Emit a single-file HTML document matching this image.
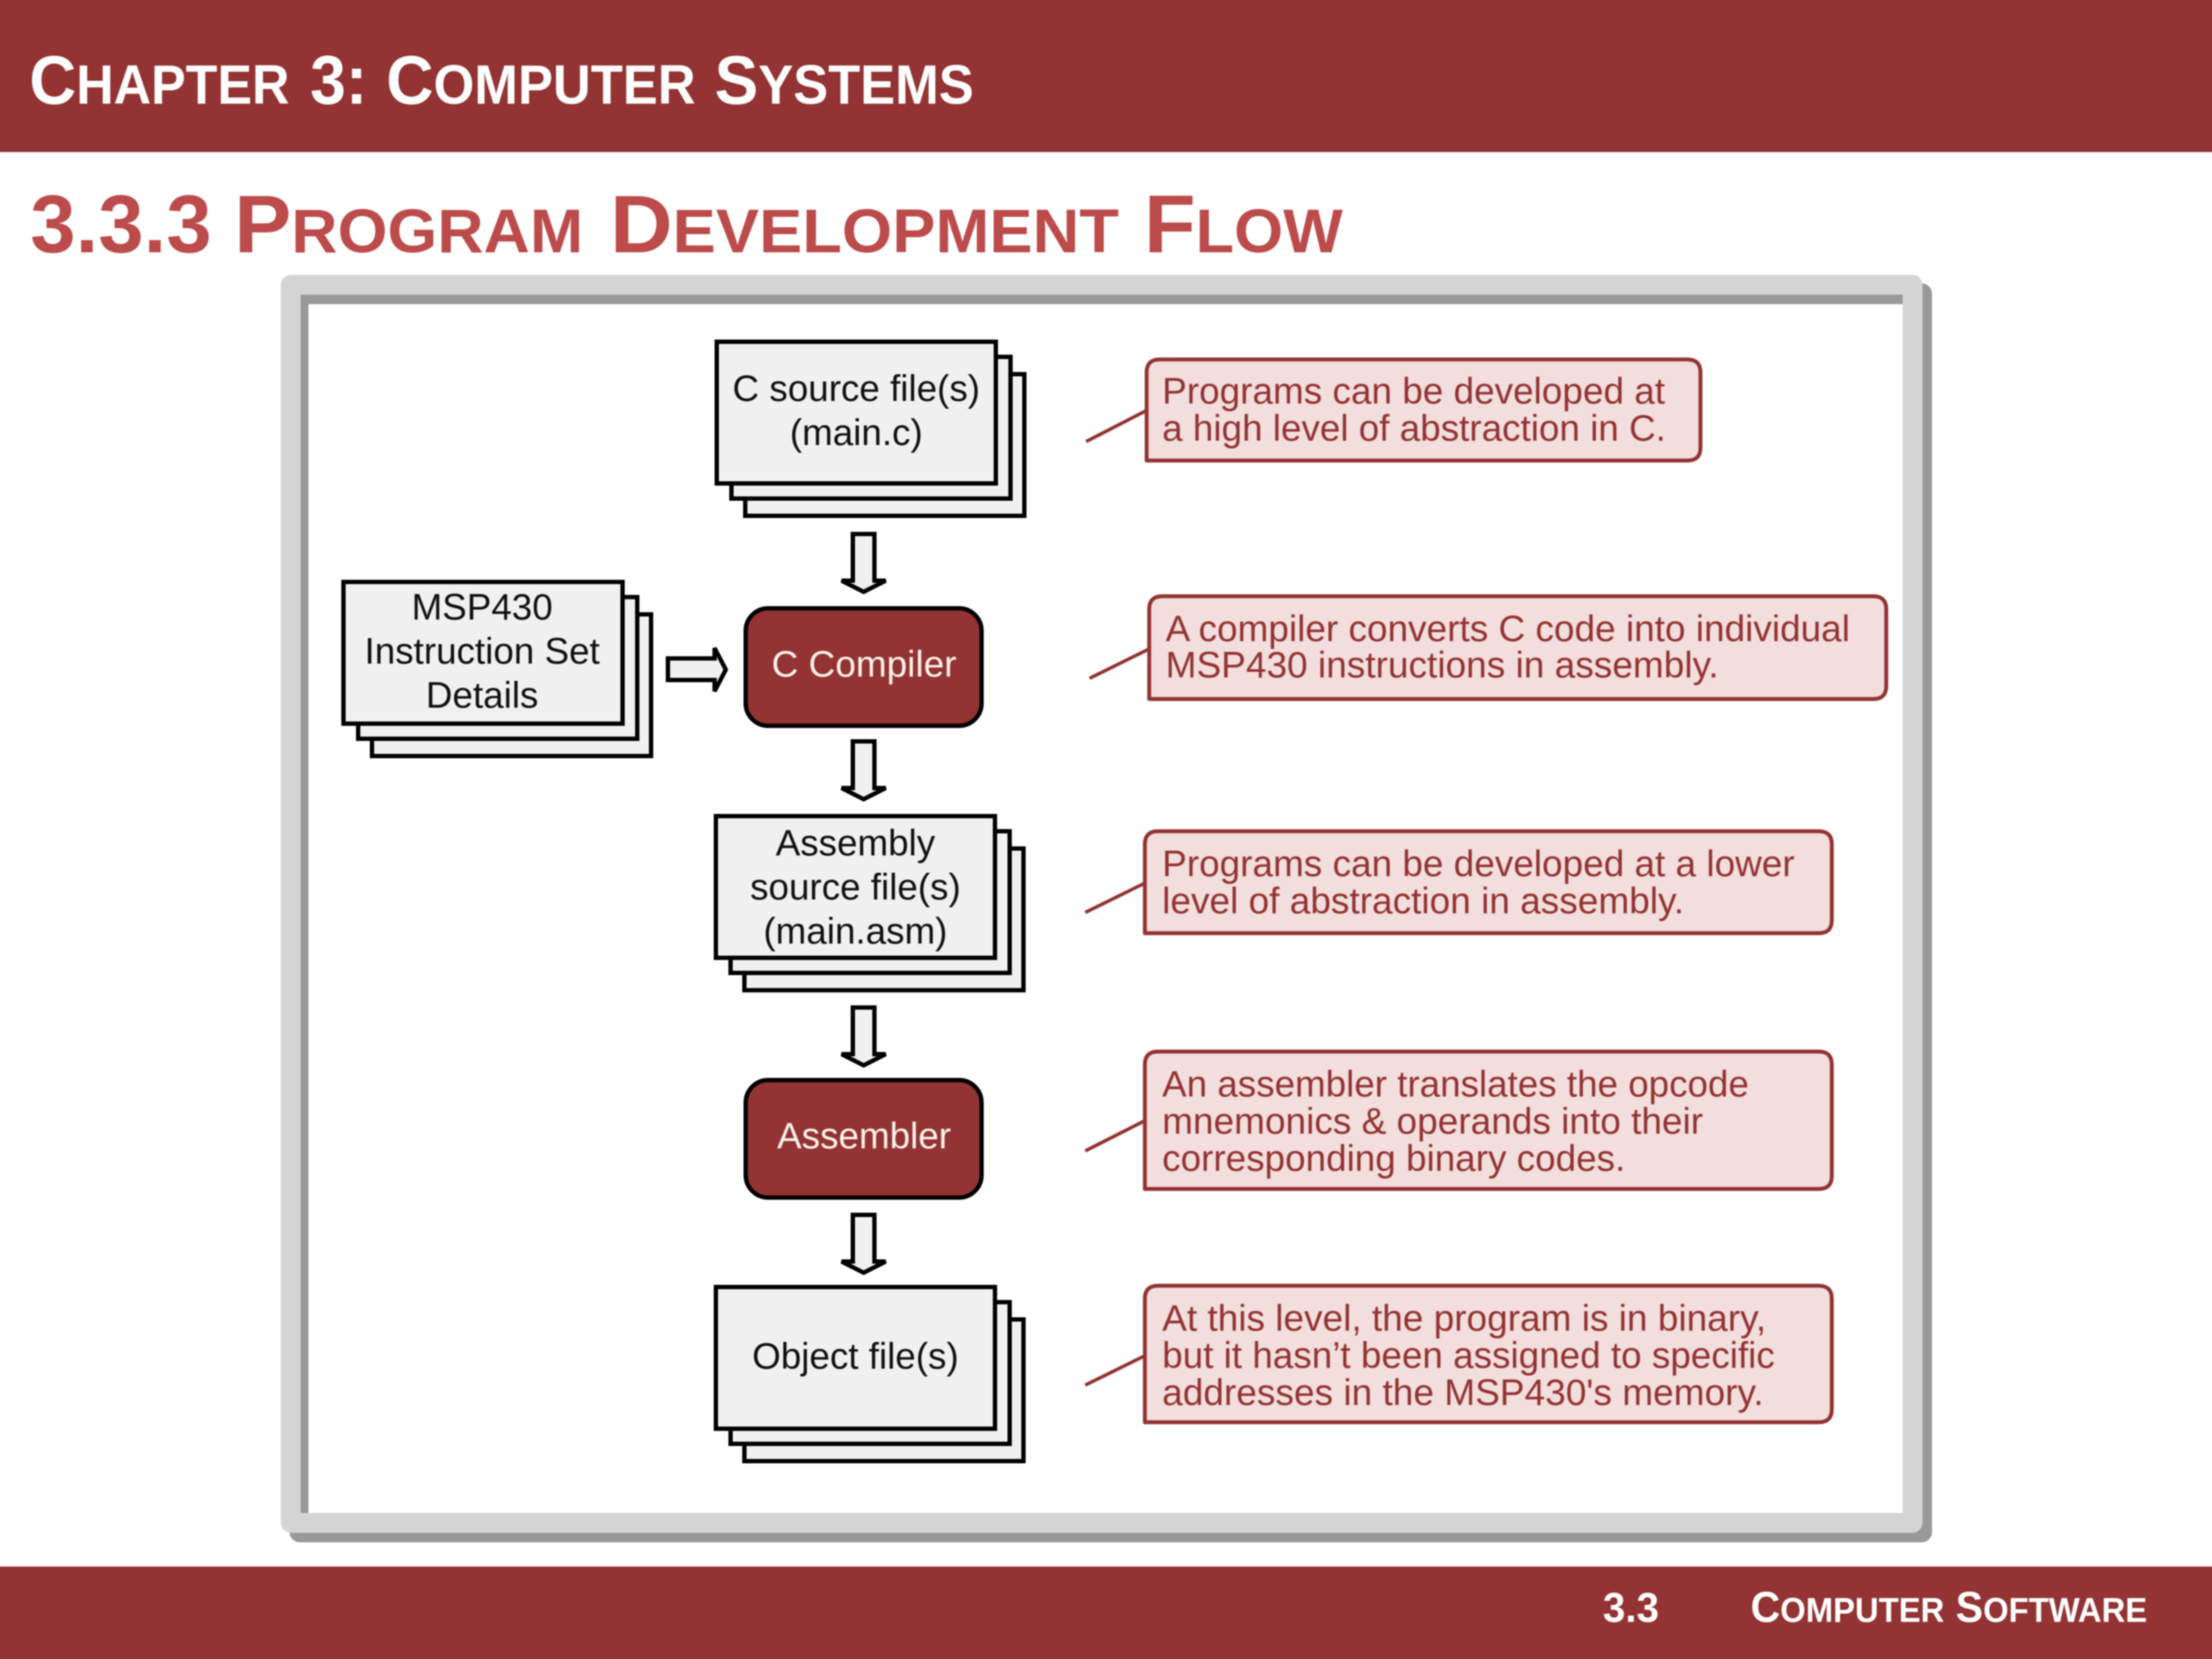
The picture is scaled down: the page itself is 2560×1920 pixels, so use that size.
<!DOCTYPE html>
<html><head><meta charset="utf-8"><style>
html,body{margin:0;padding:0;background:#fff;width:2560px;height:1920px}
#wrap{position:relative;width:2560px;height:1920px;overflow:hidden;contain:paint}
svg{display:block;position:absolute;left:-10px;top:-10px;filter:blur(.7px)}
text{font-family:"Liberation Sans",sans-serif}
.h{font-weight:bold}
.b{font-size:42.6px;fill:#111;text-anchor:middle}
.c{font-size:42.6px;fill:#933333}
.w{font-size:42.6px;fill:#fbf2ea;text-anchor:middle}
</style></head><body><div id="wrap">
<svg width="2580" height="1940" viewBox="-10 -10 2580 1940" xmlns="http://www.w3.org/2000/svg">
<defs>
<g id="stack" fill="#f0f0f0" stroke="#000" stroke-width="5">
<rect x="33" y="37.5" width="323" height="164"/>
<rect x="17" y="17.5" width="323" height="164"/>
<rect x="0" y="0" width="323" height="164"/>
</g>
<path id="da" d="M987 618H1012V672H1025L999.5 685L974 672H987Z" fill="#f0f0f0" stroke="#000" stroke-width="5" stroke-linejoin="miter"/>
</defs>
<rect x="-10" y="-10" width="2580" height="1940" fill="#fff"/>
<rect x="-10" y="-10" width="2580" height="186" fill="#933333"/>
<rect x="-10" y="1813" width="2580" height="117" fill="#933333"/>
<g fill="#fff" font-size="80">
<text class="h" x="34" y="120" textLength="301" lengthAdjust="spacingAndGlyphs">C<tspan font-size="64">HAPTER</tspan></text>
<text class="h" x="359" y="120" textLength="66" lengthAdjust="spacingAndGlyphs">3:</text>
<text class="h" x="447" y="120" textLength="358" lengthAdjust="spacingAndGlyphs">C<tspan font-size="64">OMPUTER</tspan></text>
<text class="h" x="827" y="120" textLength="300" lengthAdjust="spacingAndGlyphs">S<tspan font-size="64">YSTEMS</tspan></text>
</g>
<g fill="#bc4b4b" font-size="95">
<text class="h" x="35" y="292" textLength="210" lengthAdjust="spacingAndGlyphs">3.3.3</text>
<text class="h" x="271" y="292" textLength="404" lengthAdjust="spacingAndGlyphs">P<tspan font-size="71">ROGRAM</tspan></text>
<text class="h" x="706" y="292" textLength="589" lengthAdjust="spacingAndGlyphs">D<tspan font-size="71">EVELOPMENT</tspan></text>
<text class="h" x="1324" y="292" textLength="230" lengthAdjust="spacingAndGlyphs">F<tspan font-size="71">LOW</tspan></text>
</g>
<text class="h" x="1855" y="1877" fill="#fff" font-size="48" textLength="65" lengthAdjust="spacingAndGlyphs">3.3</text>
<text class="h" x="2026" y="1877" fill="#fff" font-size="50" textLength="459" lengthAdjust="spacingAndGlyphs">C<tspan font-size="40">OMPUTER</tspan> S<tspan font-size="40">OFTWARE</tspan></text>

<rect x="335" y="328" width="1901" height="1457" rx="12" fill="#999"/>
<rect x="325" y="318" width="1900" height="1456" rx="12" fill="#d4d4d4"/>
<rect x="348" y="341" width="1854" height="1410" fill="#999"/>
<rect x="357" y="352" width="1845" height="1399" fill="#fff"/>

<use href="#stack" x="829.5" y="395.5"/>
<use href="#stack" x="397.5" y="673.5"/>
<use href="#stack" x="828.5" y="944.5"/>
<use href="#stack" x="828.5" y="1489.5"/>

<use href="#da"/>
<use href="#da" y="240"/>
<use href="#da" y="548"/>
<use href="#da" y="788"/>
<path d="M773 762H827V750L840 775L827 800V787H773Z" fill="#f0f0f0" stroke="#000" stroke-width="5"/>

<rect x="863" y="704" width="273" height="136" rx="26" fill="#933333" stroke="#000" stroke-width="5"/>
<rect x="863" y="1250" width="273" height="136" rx="26" fill="#933333" stroke="#000" stroke-width="5"/>

<text class="b" x="991" y="464">C source file(s)</text>
<text class="b" x="991" y="515">(main.c)</text>
<text class="b" x="558" y="717">MSP430</text>
<text class="b" x="558" y="768">Instruction Set</text>
<text class="b" x="558" y="819">Details</text>
<text class="b" x="990" y="990">Assembly</text>
<text class="b" x="990" y="1041">source file(s)</text>
<text class="b" x="990" y="1092">(main.asm)</text>
<text class="b" x="990" y="1584">Object file(s)</text>
<text class="w" x="1000" y="783" textLength="214" lengthAdjust="spacingAndGlyphs">C Compiler</text>
<text class="w" x="1000" y="1329">Assembler</text>

<g fill="#f2dedc" stroke="#933333" stroke-width="4.5" stroke-linejoin="round">
<path d="M1327 533V431Q1327 416 1342 416H1953Q1968 416 1968 431V518Q1968 533 1953 533Z"/>
<path d="M1330 809V705Q1330 690 1345 690H2168Q2183 690 2183 705V794Q2183 809 2168 809Z"/>
<path d="M1325 1080V977Q1325 962 1340 962H2105Q2120 962 2120 977V1065Q2120 1080 2105 1080Z"/>
<path d="M1325 1376V1232Q1325 1217 1340 1217H2105Q2120 1217 2120 1232V1361Q2120 1376 2105 1376Z"/>
<path d="M1325 1646V1503Q1325 1488 1340 1488H2105Q2120 1488 2120 1503V1631Q2120 1646 2105 1646Z"/>
</g>
<g stroke="#933333" stroke-width="4" fill="none">
<path d="M1327 475L1257 511"/>
<path d="M1330 751L1261 785"/>
<path d="M1325 1022L1256 1056"/>
<path d="M1325 1297L1256 1332"/>
<path d="M1325 1569L1256 1603"/>
</g>
<text class="c" x="1345" y="467" textLength="582" lengthAdjust="spacingAndGlyphs">Programs can be developed at</text>
<text class="c" x="1345" y="510" textLength="583" lengthAdjust="spacingAndGlyphs">a high level of abstraction in C.</text>
<text class="c" x="1349" y="742" textLength="792" lengthAdjust="spacingAndGlyphs">A compiler converts C code into individual</text>
<text class="c" x="1349" y="784" textLength="640" lengthAdjust="spacingAndGlyphs">MSP430 instructions in assembly.</text>
<text class="c" x="1345" y="1014" textLength="732" lengthAdjust="spacingAndGlyphs">Programs can be developed at a lower</text>
<text class="c" x="1345" y="1057" textLength="604" lengthAdjust="spacingAndGlyphs">level of abstraction in assembly.</text>
<text class="c" x="1345" y="1269" textLength="679" lengthAdjust="spacingAndGlyphs">An assembler translates the opcode</text>
<text class="c" x="1345" y="1312" textLength="626" lengthAdjust="spacingAndGlyphs">mnemonics &amp; operands into their</text>
<text class="c" x="1345" y="1355" textLength="536" lengthAdjust="spacingAndGlyphs">corresponding binary codes.</text>
<text class="c" x="1345" y="1540" textLength="699" lengthAdjust="spacingAndGlyphs">At this level, the program is in binary,</text>
<text class="c" x="1345" y="1583" textLength="709" lengthAdjust="spacingAndGlyphs">but it hasn’t been assigned to specific</text>
<text class="c" x="1345" y="1626" textLength="696" lengthAdjust="spacingAndGlyphs">addresses in the MSP430's memory.</text>
</svg>
</div></body></html>
